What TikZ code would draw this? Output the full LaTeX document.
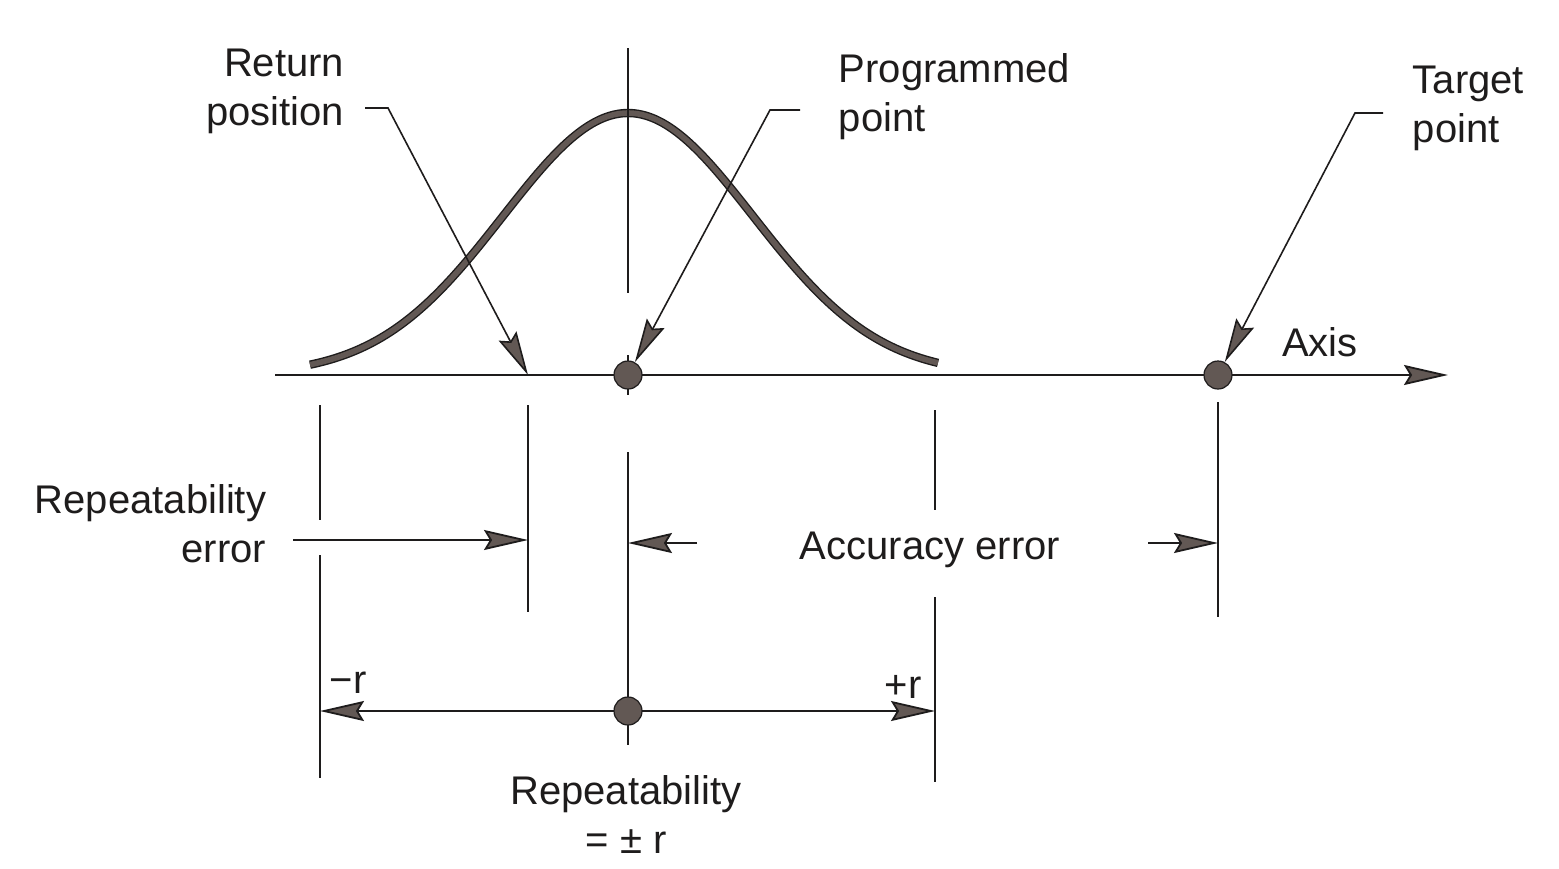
\documentclass[tikz,border=0pt]{standalone}
\usepackage{fontspec}
\setmainfont{Liberation Sans}
\usetikzlibrary{arrows.meta,positioning,calc}
\definecolor{inkgray}{RGB}{98,88,84}
\definecolor{inkblack}{RGB}{30,28,28}

\tikzset{
    dimtip/.tip={Stealth[length=22pt,width=10pt,inset=3pt,fill=inkgray]},
    lbl/.style={font=\fontsize{20pt}{24.5pt}\selectfont, text=inkblack, inner sep=0pt},
    dot/.style={circle, fill=inkgray, draw=inkblack, line width=0.6pt, minimum size=14pt, inner sep=0pt},
    leader/.style={line width=0.8pt, -dimtip},
}

\begin{document}
\begin{tikzpicture}[x=0.5pt, y=-0.5pt, line width=0.9pt, draw=inkblack]
    \useasboundingbox (0,0) rectangle (1559,868);
    % points on the axis
    \coordinate (axstart) at (275,375);
    \coordinate (axend) at (1448,375);
    \coordinate (lft) at (320,375);
    \coordinate (ret) at (528,375);
    \coordinate (rgt) at (935,375);
    \coordinate (mid) at (628,711);

    \draw[-dimtip] (axstart) -- (axend);
    \draw[draw=inkblack, double=inkgray, double distance=2.8pt, line width=0.7pt]
        plot[domain=310:938, samples=90, smooth] (\x, {375-262/exp(0.5*((\x-628)/125)^2)});

    % extension lines
    \foreach \xa/\ya/\yb in {320/405/520, 320/555/778, 528/405/612, 628/48/293, 628/355/395,
                             628/452/745, 935/410/510, 935/597/782, 1218/402/617}{
        \draw (\xa,\ya) -- (\xa,\yb);
    }

    \node[dot] (prog) at (628,375) {};
    \node[dot] (tgt) at (1218,375) {};

    % labels
    \node[lbl, align=right, anchor=east] (retlbl) at (345,91) {Return\\position};
    \node[lbl, align=left, anchor=west] (proglbl) at (838,97) {Programmed\\point};
    \node[lbl, align=left, anchor=west] (tgtlbl) at (1412,108) {Target\\point};
    \node[lbl, anchor=base] (axlbl) at (1320,356) {Axis};
    \node[lbl, align=right, anchor=east] (reperrlbl) at (267,524) {Repeatability\\error};
    \node[lbl, anchor=base] (acclbl) at (930,559) {Accuracy error};
    \node[lbl, anchor=base] (mrlbl) at (348,693) {−r};
    \node[lbl, anchor=base] (prlbl) at (903,698) {+r};
    \node[lbl, align=center] (replbl) at (626,814) {Repeatability\\= ± r};

    % leaders
    \coordinate (retA) at (365,108);
    \coordinate (retB) at (388,108);
    \draw[leader] (retA) -- (retB) -- (ret);
    \coordinate (progA) at (800,110);
    \coordinate (progB) at (770,110);
    \draw[leader] (progA) -- (progB) -- (prog);
    \coordinate (tgtA) at (1383,113);
    \coordinate (tgtB) at (1355,113);
    \draw[leader] (tgtA) -- (tgtB) -- (tgt);

    % dimension arrows
    \coordinate (reperr) at (293,540);
    \draw[-dimtip] (reperr) -- (ret |- reperr);
    \coordinate (accl) at (697,543);
    \draw[-dimtip] (accl) -- (prog |- accl);
    \coordinate (accr) at (1148,543);
    \draw[-dimtip] (accr) -- (tgt |- accr);
    \draw[dimtip-dimtip] (lft |- mid) -- (rgt |- mid);
    \node[dot] (middot) at (mid) {};
\end{tikzpicture}
\end{document}
